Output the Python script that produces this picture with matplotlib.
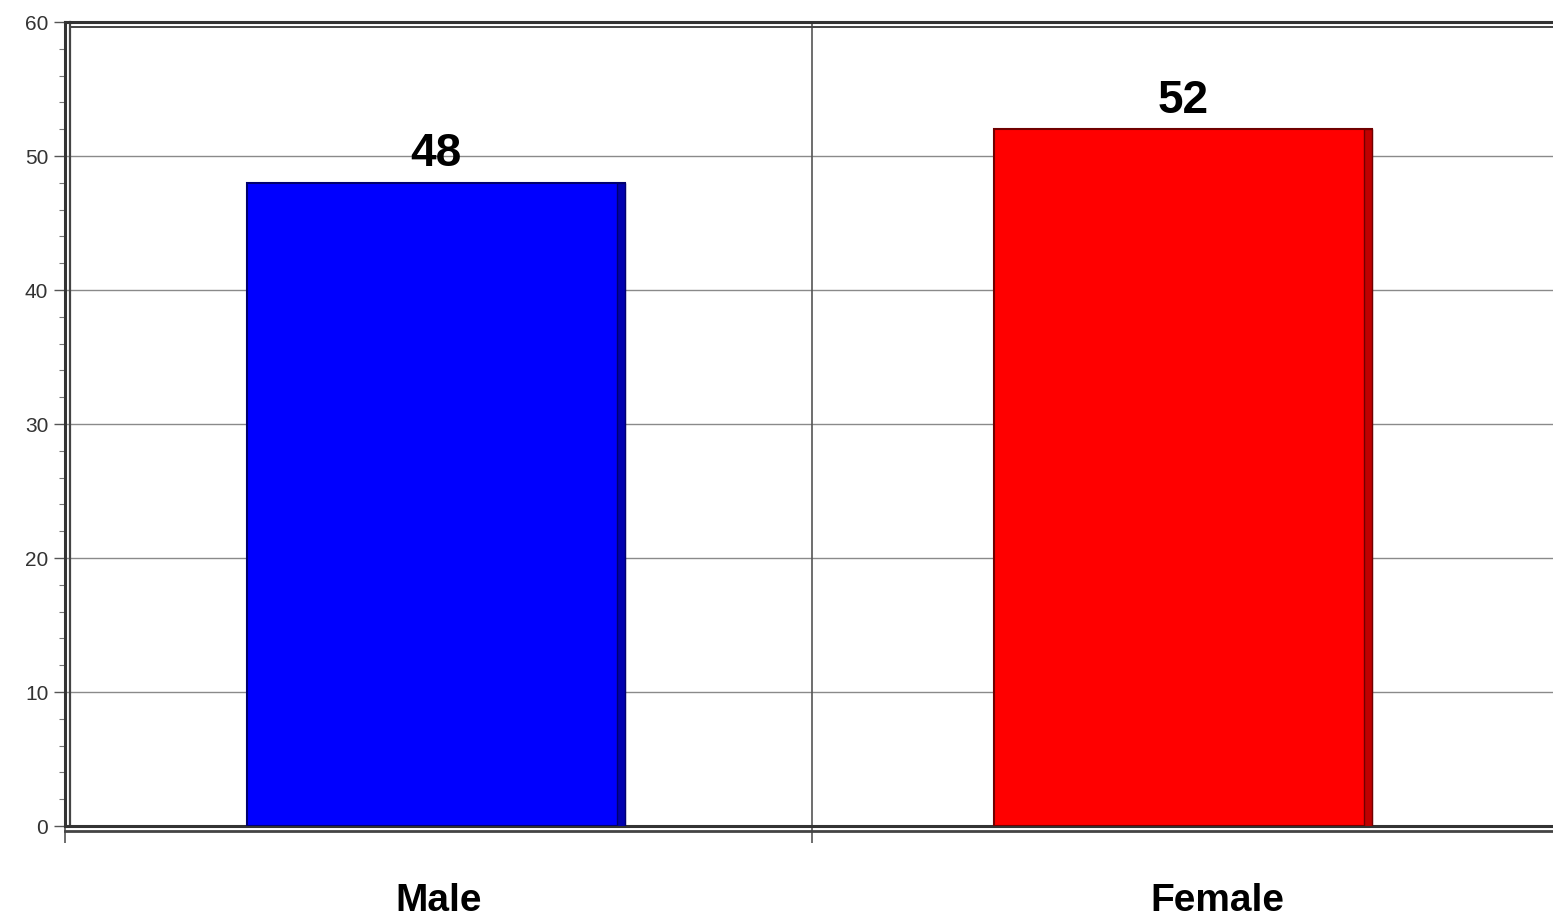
import matplotlib
matplotlib.use("Agg")
import matplotlib.pyplot as plt
import matplotlib.transforms as mtransforms
from matplotlib.ticker import MultipleLocator

categories = ["Male", "Female"]
values = [48, 52]
colors = ["#0000ff", "#ff0000"]
edge_colors = ["#000070", "#700000"]
side_colors = ["#0000b0", "#c00000"]
yticks = [0, 10, 20, 30, 40, 50, 60]

W, H = 1553, 919
fig = plt.figure(figsize=(W / 100, H / 100), dpi=100)
ax = fig.add_axes([65 / W, 1 - 826 / H, 1494 / W, (826 - 22) / H])

positions = [0.5, 1.5]
bar_w = 0.506
side_w = 0.011

ax.set_xlim(0, 2)
ax.set_ylim(0, 60)

# grid
for t in yticks[1:-1]:
    ax.axhline(t, color="#8a8a8a", lw=1.0, zorder=0)
ax.axvline(1, color="#555555", lw=1.2, zorder=0)

for p, v, c, ec, sc in zip(positions, values, colors, edge_colors, side_colors):
    ax.bar(p - 0.003, v, width=bar_w, color=c, edgecolor=ec, linewidth=1.5, zorder=3)
    ax.bar(p - 0.003 + bar_w / 2 - side_w / 2, v, width=side_w, color=sc,
           edgecolor=ec, linewidth=1.0, zorder=4)
    ax.annotate(str(v), (p, v), xytext=(-2, 12), textcoords="offset points",
                ha="center", va="baseline", fontsize=33, fontweight="bold",
                family="Liberation Sans", color="black", zorder=5)

label_dx = [0, 23]
for p, lab, dx in zip(positions, categories, label_dx):
    ax.annotate(lab, (p, 0), xytext=(dx, -61), textcoords="offset points",
                ha="center", va="baseline", fontsize=28, fontweight="bold",
                family="Liberation Sans", color="black", annotation_clip=False)

# spines - double lines
for s in ["left", "bottom", "top"]:
    ax.spines[s].set_color("#333333")
    ax.spines[s].set_linewidth(2.2)
ax.spines["right"].set_visible(False)

off_left = mtransforms.offset_copy(ax.transAxes, fig=fig, x=5, y=0, units="dots")
ax.plot([0, 0], [0, 1], transform=off_left, color="#444444", lw=1.6, clip_on=False)
off_bot = mtransforms.offset_copy(ax.transAxes, fig=fig, x=0, y=-5, units="dots")
ax.plot([0, 1], [0, 0], transform=off_bot, color="#444444", lw=2.0, clip_on=False)
off_top = mtransforms.offset_copy(ax.transAxes, fig=fig, x=5, y=-5, units="dots")
ax.plot([0, 1], [1, 1], transform=off_top, color="#444444", lw=1.4, clip_on=False)

ax.set_yticks(yticks)
ax.yaxis.set_minor_locator(MultipleLocator(2))
ax.tick_params(axis="y", which="major", length=8, width=1, color="#555555",
               labelsize=15, labelcolor="#333333", pad=4)
ax.tick_params(axis="y", which="minor", length=4, width=0.8, color="#777777")
ax.set_yticklabels([str(t) for t in yticks], family="Liberation Sans")

ax.set_xticks([0, 1])
ax.set_xticklabels(["", ""])
ax.tick_params(axis="x", which="major", length=12, width=1.2, color="#555555")

fig.savefig("out.png", dpi=100)
